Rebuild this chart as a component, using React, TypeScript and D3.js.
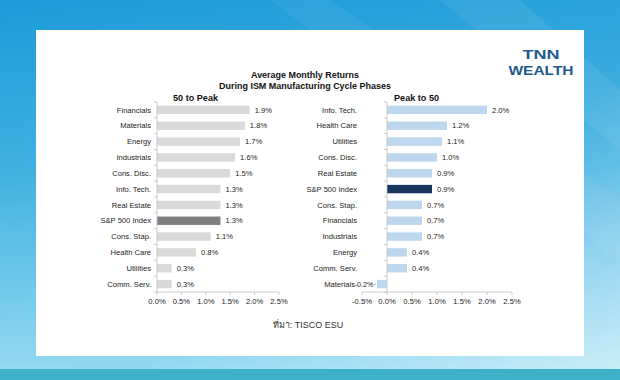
import React from "react";
import * as d3 from "d3";

const leftCategories = ["Financials", "Materials", "Energy", "Industrials", "Cons. Disc.", "Info. Tech.", "Real Estate", "S&P 500 Index", "Cons. Stap.", "Health Care", "Utilities", "Comm. Serv."];
const leftValues = [1.9, 1.8, 1.7, 1.6, 1.5, 1.3, 1.3, 1.3, 1.1, 0.8, 0.3, 0.3];
const rightCategories = ["Info. Tech.", "Health Care", "Utilities", "Cons. Disc.", "Real Estate", "S&P 500 Index", "Cons. Stap.", "Financials", "Industrials", "Energy", "Comm. Serv.", "Materials"];
const rightValues = [2.0, 1.2, 1.1, 1.0, 0.9, 0.9, 0.7, 0.7, 0.7, 0.4, 0.4, -0.2];
const leftTicks = [0, 0.5, 1.0, 1.5, 2.0, 2.5];
const rightTicks = [-0.5, 0, 0.5, 1.0, 1.5, 2.0, 2.5];
const titleLines = ["Average Monthly Returns", "During ISM Manufacturing Cycle Phases"];
const panelTitles = ["50 to Peak", "Peak to 50"];
const sourceText = "ที่มา: TISCO ESU";

const FONT = "'Liberation Sans', Arial, sans-serif";
const fmt = (v: number) => `${v.toFixed(1)}%`;

function Panel({ cats, vals, ticks, x, labelRight, barColor, hiColor, title, titleX }: any) {
  const y = d3.scaleBand<string>().domain(cats).range([102, 292]).paddingInner(0.47).paddingOuter(0.235);
  const x0 = x(0);
  const axisColor = "#bfbfbf";
  const [r0, r1] = y.range();
  const step = y.step();
  return (
    <g fontFamily={FONT}>
      <text x={titleX} y={101} fontSize={9.5} fontWeight="bold" fill="#111" textLength={45} lengthAdjust="spacingAndGlyphs">{title}</text>
      {cats.map((c: string, i: number) => {
        const v = vals[i];
        const yy = y(c)!;
        const bw = y.bandwidth();
        const xa = Math.min(x(v), x0);
        const w = Math.abs(x(v) - x0);
        const isIdx = c === "S&P 500 Index";
        const cy = yy + bw / 2;
        return (
          <g key={c}>
            <rect x={xa} y={yy} width={w} height={bw} fill={isIdx ? hiColor : barColor} />
            <text x={v < 0 ? labelRight - 2 : labelRight} y={cy} dy="0.35em" textAnchor="end" fontSize={7.6} fill="#222">{c}</text>
            {v >= 0 ? (
              <text x={x(v) + 5} y={cy} dy="0.35em" fontSize={7.6} fill="#222">{fmt(v)}</text>
            ) : (
              <g>
                <line x1={x(v) - 3} x2={x(v) - 1} y1={cy} y2={cy} stroke="#999" strokeWidth={0.7} />
                <text x={x(v) - 3.5} y={cy} dy="0.35em" textAnchor="end" fontSize={7.2} fill="#222">{fmt(v)}</text>
              </g>
            )}
          </g>
        );
      })}
      <line x1={x0} x2={x0} y1={r0} y2={r1} stroke={axisColor} strokeWidth={0.8} />
      {d3.range(cats.length + 1).map((i) => (
        <line key={i} x1={x0 - 3} x2={x0} y1={r0 + i * step} y2={r0 + i * step} stroke={axisColor} strokeWidth={0.8} />
      ))}
      <line x1={x(ticks[0])} x2={x(ticks[ticks.length - 1])} y1={r1} y2={r1} stroke={axisColor} strokeWidth={0.8} />
      {ticks.map((t: number) => (
        <g key={t}>
          <line x1={x(t)} x2={x(t)} y1={r1} y2={r1 + 3} stroke={axisColor} strokeWidth={0.8} />
          <text x={x(t)} y={r1 + 9} dy="0.35em" textAnchor="middle" fontSize={7.6} fill="#222">{fmt(t)}</text>
        </g>
      ))}
    </g>
  );
}

export default function App() {
  const xL = d3.scaleLinear().domain([0, 2.5]).range([157, 279]);
  const xR = d3.scaleLinear().domain([-0.5, 2.5]).range([362, 512]);
  return (
    <svg width={620} height={380} style={{ position: "absolute", left: 0, top: 0 }}>
      <defs>
        <linearGradient id="bgv" x1="0" y1="0" x2="0" y2="1">
          <stop offset="0" stopColor="#1b9cd8" />
          <stop offset="0.45" stopColor="#3aaee0" />
          <stop offset="1" stopColor="#8fd8f1" />
        </linearGradient>
        <linearGradient id="bgh" x1="0" y1="0" x2="1" y2="1">
          <stop offset="0" stopColor="#ffffff" stopOpacity="0" />
          <stop offset="0.6" stopColor="#ffffff" stopOpacity="0.08" />
          <stop offset="1" stopColor="#ffffff" stopOpacity="0.55" />
        </linearGradient>
      </defs>
      <rect x={0} y={0} width={620} height={380} fill="url(#bgv)" />
      <rect x={0} y={0} width={620} height={380} fill="url(#bgh)" />
      <polygon points="270,0 330,0 620,200 620,260" fill="#ffffff" opacity={0.05} />
      <polygon points="440,0 520,0 620,90 620,150" fill="#ffffff" opacity={0.07} />
      <rect x={0} y={369} width={620} height={11} fill="#3eb0c8" />
      <rect x={36} y={30} width={548} height={326} fill="#ffffff" />

      <g fontFamily={FONT} fontWeight="bold" fill="#111" fontSize={9}>
        <text x={305} y={78} textAnchor="middle" textLength={108} lengthAdjust="spacingAndGlyphs">{titleLines[0]}</text>
        <text x={305} y={89} textAnchor="middle" textLength={172} lengthAdjust="spacingAndGlyphs">{titleLines[1]}</text>
      </g>

      <Panel cats={leftCategories} vals={leftValues} ticks={leftTicks} x={xL} labelRight={151}
        barColor="#d9d9d9" hiColor="#7f7f7f" title={panelTitles[0]} titleX={173} />
      <Panel cats={rightCategories} vals={rightValues} ticks={rightTicks} x={xR} labelRight={357}
        barColor="#bdd7ee" hiColor="#17375e" title={panelTitles[1]} titleX={394} />

      <text x={308} y={325} dy="0.35em" textAnchor="middle" fontFamily={FONT} fontSize={9} fill="#333">{sourceText}</text>

      <g fontFamily={FONT} fontWeight="bold" fill="#1c5a8e">
        <text x={541} y={59} textAnchor="middle" fontSize={13} textLength={37} lengthAdjust="spacingAndGlyphs">TNN</text>
        <text x={541} y={74.5} textAnchor="middle" fontSize={13} textLength={65} lengthAdjust="spacingAndGlyphs">WEALTH</text>
      </g>
    </svg>
  );
}
